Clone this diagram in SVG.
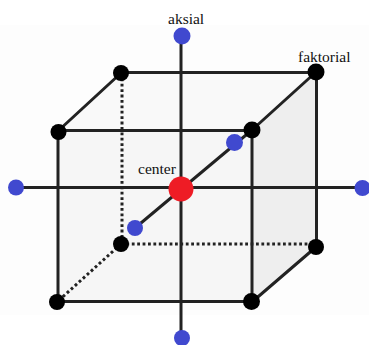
<svg xmlns="http://www.w3.org/2000/svg" width="369" height="345" viewBox="0 0 369 345">
<style>
.l{stroke:#222;stroke-width:3;fill:none}
.d{stroke:#222;stroke-width:3;fill:none;stroke-dasharray:2.8 2.6}
.k{fill:#000}
.b{fill:#4049cf}
.t{font-family:"Liberation Serif",serif;font-size:15.5px;fill:#111}
</style>
<rect width="369" height="345" fill="#fff"/>
<rect x="0" y="25" width="369" height="290" fill="#fdfdfd"/>
<g id="faces">
<polygon points="58,131 121,73 316,72 252,130" fill="#f9f9f9"/>
<rect x="58" y="131" width="194" height="171" fill="#f6f6f6"/>
<polygon points="252,130 316,72 316,247 252,302" fill="#eeeeee"/>
</g>
<g id="connectors">
<path class="l" d="M181 36V338M15 187.5H362"/>
<path class="l" d="M121 72.5H316.500V247M121 73L58 131M58 130.500H252M58 131V301.500H252M252 130V302M252 130L316 72M252 302L316 247"/>
<path class="l" d="M252 130L135 228"/>
<path class="d" d="M122 73V244M121 244H316M121 244L57 302"/>
</g>
<g id="n-bl-front"><circle class="k" cx="57" cy="302" r="8"/></g>
<g id="n-br-front"><circle class="k" cx="251.500" cy="301.500" r="8.500"/></g>
<g id="n-bl-back"><circle class="k" cx="121" cy="244" r="8"/></g>
<g id="n-br-back"><circle class="k" cx="316" cy="247" r="8"/></g>
<g id="n-tl-front"><circle class="k" cx="58.500" cy="132" r="8"/></g>
<g id="n-tr-front"><circle class="k" cx="252" cy="130" r="8.500"/></g>
<g id="n-tl-back"><circle class="k" cx="121" cy="73" r="8"/></g>
<g id="n-tr-back"><circle class="k" cx="316" cy="72" r="8.500"/></g>
<g id="a-top"><circle class="b" cx="182" cy="36" r="8.500"/></g>
<g id="a-left"><circle class="b" cx="16" cy="187.500" r="8"/></g>
<g id="a-right"><circle class="b" cx="362.500" cy="188" r="8"/></g>
<g id="a-bottom"><circle class="b" cx="182" cy="338" r="8"/></g>
<g id="a-back"><circle class="b" cx="234.500" cy="142.500" r="8.500"/></g>
<g id="a-front"><circle class="b" cx="135" cy="228" r="8"/></g>
<g id="center"><circle cx="181" cy="189" r="12.500" fill="#ee1c25"/></g>
<g id="labels">
<text class="t" x="168" y="24">aksial</text>
<text class="t" x="298" y="62">faktorial</text>
<text class="t" x="138" y="174">center</text>
</g>
</svg>
